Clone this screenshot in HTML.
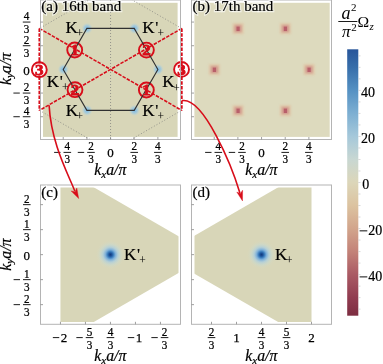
<!DOCTYPE html><html><head><meta charset="utf-8"><style>
html,body{margin:0;padding:0;background:#fff;overflow:hidden}
svg{display:block;will-change:transform}
text{font-family:'Liberation Serif',serif;}
</style></head><body>
<svg width="383" height="364" viewBox="0 0 383 364">
<defs>
<radialGradient id="gb"><stop offset="0" stop-color="#70b6ea" stop-opacity="0.95"/><stop offset="0.5" stop-color="#92c5e6" stop-opacity="0.7"/><stop offset="1" stop-color="#c0d8d8" stop-opacity="0"/></radialGradient>
<radialGradient id="gr"><stop offset="0" stop-color="#c0504a"/><stop offset="0.35" stop-color="#d59a88" stop-opacity="0.8"/><stop offset="1" stop-color="#e0c8b0" stop-opacity="0"/></radialGradient>
<radialGradient id="gbig"><stop offset="0" stop-color="#123a7a"/><stop offset="0.1" stop-color="#1d519a"/><stop offset="0.2" stop-color="#3a7cbc"/><stop offset="0.33" stop-color="#78addb" stop-opacity="0.95"/><stop offset="0.5" stop-color="#a9cde0" stop-opacity="0.75"/><stop offset="0.7" stop-color="#c4dad4" stop-opacity="0.45"/><stop offset="0.85" stop-color="#d0dac8" stop-opacity="0.2"/><stop offset="1" stop-color="#d9d7b9" stop-opacity="0"/></radialGradient>
<linearGradient id="cb" x1="0" y1="0" x2="0" y2="1"><stop offset="-0.0013" stop-color="#28559a"/><stop offset="0.0678" stop-color="#376eaa"/><stop offset="0.1543" stop-color="#5591c3"/><stop offset="0.2407" stop-color="#7dafd2"/><stop offset="0.3271" stop-color="#a5c8da"/><stop offset="0.4136" stop-color="#c8d7d2"/><stop offset="0.5000" stop-color="#dcd6b9"/><stop offset="0.5864" stop-color="#dcc3a0"/><stop offset="0.6729" stop-color="#d2a58c"/><stop offset="0.7593" stop-color="#c38278"/><stop offset="0.8457" stop-color="#aa5a64"/><stop offset="0.9322" stop-color="#913c50"/><stop offset="1.0013" stop-color="#7d2d41"/></linearGradient>
<filter id="blr" x="-50%" y="-50%" width="200%" height="200%"><feGaussianBlur stdDeviation="0.8"/></filter><filter id="blr2" x="-50%" y="-50%" width="200%" height="200%"><feGaussianBlur stdDeviation="1.3"/></filter><filter id="blr3" x="-50%" y="-50%" width="200%" height="200%"><feGaussianBlur stdDeviation="0.6"/></filter>
<clipPath id="clipA"><rect x="40.5" y="-0.5" width="140" height="140"/></clipPath>
<clipPath id="clipC"><rect x="60" y="187.5" width="118.5" height="134.5"/></clipPath>
<clipPath id="clipD"><rect x="194.5" y="187.5" width="118" height="134.5"/></clipPath>
</defs>

<rect x="43" y="2.8" width="134.6" height="134.1" fill="#d8d6b8"/>
<rect x="194.4" y="2.8" width="135.3" height="134.1" fill="#dddabe"/>
<g clip-path="url(#clipA)"><polygon points="181.55,28.41 110.55,-12.58 39.55,28.41 39.55,110.39 110.55,151.38 181.55,110.39" fill="none" stroke="#8c8c84" stroke-width="0.9" stroke-dasharray="1 2"/>
<line x1="110.55" y1="0" x2="110.55" y2="139" stroke="#8c8c84" stroke-width="0.9" stroke-dasharray="1 2"/></g>
<circle cx="158.08" cy="69.40" r="5.8" fill="url(#gb)"/>
<circle cx="134.42" cy="28.41" r="5.8" fill="url(#gb)"/>
<circle cx="87.08" cy="28.41" r="5.8" fill="url(#gb)"/>
<circle cx="63.42" cy="69.40" r="5.8" fill="url(#gb)"/>
<circle cx="87.08" cy="110.39" r="5.8" fill="url(#gb)"/>
<circle cx="134.42" cy="110.39" r="5.8" fill="url(#gb)"/>
<rect x="303.58" y="64.10" width="11" height="11" fill="#e0c2a2" opacity="0.75" filter="url(#blr2)"/>
<rect x="305.58" y="66.10" width="7" height="7" fill="#d0948a" filter="url(#blr)"/>
<rect x="307.48" y="67.60" width="3.2" height="4.4" fill="#b8606a" filter="url(#blr3)"/>
<rect x="279.92" y="23.11" width="11" height="11" fill="#e0c2a2" opacity="0.75" filter="url(#blr2)"/>
<rect x="281.92" y="25.11" width="7" height="7" fill="#d0948a" filter="url(#blr)"/>
<rect x="283.82" y="26.61" width="3.2" height="4.4" fill="#b8606a" filter="url(#blr3)"/>
<rect x="232.58" y="23.11" width="11" height="11" fill="#e0c2a2" opacity="0.75" filter="url(#blr2)"/>
<rect x="234.58" y="25.11" width="7" height="7" fill="#d0948a" filter="url(#blr)"/>
<rect x="236.48" y="26.61" width="3.2" height="4.4" fill="#b8606a" filter="url(#blr3)"/>
<rect x="208.92" y="64.10" width="11" height="11" fill="#e0c2a2" opacity="0.75" filter="url(#blr2)"/>
<rect x="210.92" y="66.10" width="7" height="7" fill="#d0948a" filter="url(#blr)"/>
<rect x="212.82" y="67.60" width="3.2" height="4.4" fill="#b8606a" filter="url(#blr3)"/>
<rect x="232.58" y="105.09" width="11" height="11" fill="#e0c2a2" opacity="0.75" filter="url(#blr2)"/>
<rect x="234.58" y="107.09" width="7" height="7" fill="#d0948a" filter="url(#blr)"/>
<rect x="236.48" y="108.59" width="3.2" height="4.4" fill="#b8606a" filter="url(#blr3)"/>
<rect x="279.92" y="105.09" width="11" height="11" fill="#e0c2a2" opacity="0.75" filter="url(#blr2)"/>
<rect x="281.92" y="107.09" width="7" height="7" fill="#d0948a" filter="url(#blr)"/>
<rect x="283.82" y="108.59" width="3.2" height="4.4" fill="#b8606a" filter="url(#blr3)"/>
<circle cx="74.70" cy="50.00" r="7.45" fill="none" stroke="#d80d1a" stroke-width="1.9"/>
<circle cx="146.35" cy="90.00" r="7.45" fill="none" stroke="#d80d1a" stroke-width="1.9"/>
<circle cx="146.40" cy="50.10" r="7.45" fill="none" stroke="#d80d1a" stroke-width="1.9"/>
<circle cx="75.00" cy="89.70" r="7.45" fill="none" stroke="#d80d1a" stroke-width="1.9"/>
<circle cx="181.55" cy="69.40" r="7.45" fill="#fff" stroke="#d80d1a" stroke-width="1.9"/>
<text transform="translate(181.55,74.60) scale(1.12,1)" text-anchor="middle" font-size="15.2" font-weight="bold" fill="#d80d1a" stroke="#d80d1a" stroke-width="0.8">3</text>
<polygon points="157.88,69.40 134.22,28.41 86.88,28.41 63.22,69.40 86.88,110.39 134.22,110.39" fill="none" stroke="#303030" stroke-width="1.1"/>
<text transform="translate(74.70,55.20) scale(1.12,1)" text-anchor="middle" font-size="15.2" font-weight="bold" fill="#d80d1a" stroke="#d80d1a" stroke-width="0.8">1</text>
<text transform="translate(146.35,95.20) scale(1.12,1)" text-anchor="middle" font-size="15.2" font-weight="bold" fill="#d80d1a" stroke="#d80d1a" stroke-width="0.8">1</text>
<text transform="translate(146.40,55.30) scale(1.12,1)" text-anchor="middle" font-size="15.2" font-weight="bold" fill="#d80d1a" stroke="#d80d1a" stroke-width="0.8">2</text>
<text transform="translate(75.00,94.90) scale(1.12,1)" text-anchor="middle" font-size="15.2" font-weight="bold" fill="#d80d1a" stroke="#d80d1a" stroke-width="0.8">2</text>
<path d="M39.40,28.41 L181.75,110.39 M181.75,28.41 L39.40,110.39" fill="none" stroke="#d80d1a" stroke-width="1.55" stroke-dasharray="3.5 1.3"/>
<path d="M39.40,28.41 L39.40,110.39 M181.75,28.41 L181.75,110.39" fill="none" stroke="#d80d1a" stroke-width="1.9" stroke-dasharray="3.5 1.3"/>
<rect x="40.5" y="0" width="140" height="139.5" fill="none" stroke="#b4b4b4" stroke-width="1"/>
<rect x="191.5" y="0" width="140" height="139.5" fill="none" stroke="#b4b4b4" stroke-width="1"/>
<text x="65.50" y="32.50" font-size="17" stroke="#000" stroke-width="0.2">K<tspan font-size="11.5" dx="-1.4" dy="4.3" stroke-width="0.05">+</tspan></text>
<text x="142.20" y="32.80" font-size="17" stroke="#000" stroke-width="0.2">K<tspan dx="0.8">'</tspan><tspan font-size="11.5" dx="-0.9" dy="4.3" stroke-width="0.05">+</tspan></text>
<text x="46.70" y="87.10" font-size="17" stroke="#000" stroke-width="0.2">K<tspan dx="0.8">'</tspan><tspan font-size="11.5" dx="-0.9" dy="4.3" stroke-width="0.05">+</tspan></text>
<text x="162.30" y="87.30" font-size="17" stroke="#000" stroke-width="0.2">K<tspan font-size="11.5" dx="-1.4" dy="4.3" stroke-width="0.05">+</tspan></text>
<text x="65.70" y="115.70" font-size="17" stroke="#000" stroke-width="0.2">K<tspan font-size="11.5" dx="-1.4" dy="4.3" stroke-width="0.05">+</tspan></text>
<text x="142.20" y="115.70" font-size="17" stroke="#000" stroke-width="0.2">K<tspan dx="0.8">'</tspan><tspan font-size="11.5" dx="-0.9" dy="4.3" stroke-width="0.05">+</tspan></text>
<text x="41.3" y="11.2" font-size="15" fill="none" stroke="#fff" stroke-opacity="0.6" stroke-width="2.5">(a) 16th band</text>
<text x="41.3" y="11.2" font-size="15" stroke="#000" stroke-width="0.2">(a) 16th band</text>
<text x="192.5" y="11.2" font-size="15" fill="none" stroke="#fff" stroke-opacity="0.6" stroke-width="2.5">(b) 17th band</text>
<text x="192.5" y="11.2" font-size="15" stroke="#000" stroke-width="0.2">(b) 17th band</text>
<line x1="63.22" y1="139.5" x2="63.22" y2="137.0" stroke="#888888" stroke-width="0.8"/>
<line x1="86.88" y1="139.5" x2="86.88" y2="137.0" stroke="#888888" stroke-width="0.8"/>
<line x1="110.55" y1="139.5" x2="110.55" y2="137.0" stroke="#888888" stroke-width="0.8"/>
<line x1="134.22" y1="139.5" x2="134.22" y2="137.0" stroke="#888888" stroke-width="0.8"/>
<line x1="157.88" y1="139.5" x2="157.88" y2="137.0" stroke="#888888" stroke-width="0.8"/>
<line x1="214.22" y1="139.5" x2="214.22" y2="137.0" stroke="#888888" stroke-width="0.8"/>
<line x1="237.88" y1="139.5" x2="237.88" y2="137.0" stroke="#888888" stroke-width="0.8"/>
<line x1="261.55" y1="139.5" x2="261.55" y2="137.0" stroke="#888888" stroke-width="0.8"/>
<line x1="285.22" y1="139.5" x2="285.22" y2="137.0" stroke="#888888" stroke-width="0.8"/>
<line x1="308.88" y1="139.5" x2="308.88" y2="137.0" stroke="#888888" stroke-width="0.8"/>
<line x1="40.5" y1="116.73" x2="43.0" y2="116.73" stroke="#888888" stroke-width="0.8"/>
<line x1="40.5" y1="93.07" x2="43.0" y2="93.07" stroke="#888888" stroke-width="0.8"/>
<line x1="40.5" y1="69.40" x2="43.0" y2="69.40" stroke="#888888" stroke-width="0.8"/>
<line x1="40.5" y1="45.73" x2="43.0" y2="45.73" stroke="#888888" stroke-width="0.8"/>
<line x1="40.5" y1="22.07" x2="43.0" y2="22.07" stroke="#888888" stroke-width="0.8"/>
<line x1="191.5" y1="116.73" x2="194.0" y2="116.73" stroke="#888888" stroke-width="0.8"/>
<line x1="191.5" y1="93.07" x2="194.0" y2="93.07" stroke="#888888" stroke-width="0.8"/>
<line x1="191.5" y1="69.40" x2="194.0" y2="69.40" stroke="#888888" stroke-width="0.8"/>
<line x1="191.5" y1="45.73" x2="194.0" y2="45.73" stroke="#888888" stroke-width="0.8"/>
<line x1="191.5" y1="22.07" x2="194.0" y2="22.07" stroke="#888888" stroke-width="0.8"/>
<circle cx="39.30" cy="69.70" r="7.45" fill="#fff" stroke="#d80d1a" stroke-width="1.9"/>
<text transform="translate(39.30,74.90) scale(1.12,1)" text-anchor="middle" font-size="15.2" font-weight="bold" fill="#d80d1a" stroke="#d80d1a" stroke-width="0.8">3</text>
<line x1="39.4" y1="60.5" x2="39.4" y2="63.5" stroke="#d80d1a" stroke-width="1.8"/>
<line x1="39.4" y1="75.5" x2="39.4" y2="78.5" stroke="#d80d1a" stroke-width="1.8"/>
<line x1="54.12" y1="152.40" x2="60.52" y2="152.40" stroke="#000" stroke-width="0.9"/>
<line x1="63.52" y1="152.40" x2="71.12" y2="152.40" stroke="#000" stroke-width="0.9"/>
<text transform="translate(67.32,150.40) scale(0.93,1)" text-anchor="middle" font-size="12" stroke="#000" stroke-width="0.25">4</text>
<text transform="translate(67.32,163.40) scale(0.93,1)" text-anchor="middle" font-size="12" stroke="#000" stroke-width="0.25">3</text>
<line x1="77.78" y1="152.40" x2="84.18" y2="152.40" stroke="#000" stroke-width="0.9"/>
<line x1="87.18" y1="152.40" x2="94.78" y2="152.40" stroke="#000" stroke-width="0.9"/>
<text transform="translate(90.98,150.40) scale(0.93,1)" text-anchor="middle" font-size="12" stroke="#000" stroke-width="0.25">2</text>
<text transform="translate(90.98,163.40) scale(0.93,1)" text-anchor="middle" font-size="12" stroke="#000" stroke-width="0.25">3</text>
<text transform="translate(110.55,156.80) scale(1,1)" text-anchor="middle" font-size="13" stroke="#000" stroke-width="0.25">0</text>
<line x1="130.42" y1="152.40" x2="138.02" y2="152.40" stroke="#000" stroke-width="0.9"/>
<text transform="translate(134.22,150.40) scale(0.93,1)" text-anchor="middle" font-size="12" stroke="#000" stroke-width="0.25">2</text>
<text transform="translate(134.22,163.40) scale(0.93,1)" text-anchor="middle" font-size="12" stroke="#000" stroke-width="0.25">3</text>
<line x1="154.08" y1="152.40" x2="161.68" y2="152.40" stroke="#000" stroke-width="0.9"/>
<text transform="translate(157.88,150.40) scale(0.93,1)" text-anchor="middle" font-size="12" stroke="#000" stroke-width="0.25">4</text>
<text transform="translate(157.88,163.40) scale(0.93,1)" text-anchor="middle" font-size="12" stroke="#000" stroke-width="0.25">3</text>
<line x1="205.12" y1="152.40" x2="211.52" y2="152.40" stroke="#000" stroke-width="0.9"/>
<line x1="214.52" y1="152.40" x2="222.12" y2="152.40" stroke="#000" stroke-width="0.9"/>
<text transform="translate(218.32,150.40) scale(0.93,1)" text-anchor="middle" font-size="12" stroke="#000" stroke-width="0.25">4</text>
<text transform="translate(218.32,163.40) scale(0.93,1)" text-anchor="middle" font-size="12" stroke="#000" stroke-width="0.25">3</text>
<line x1="228.78" y1="152.40" x2="235.18" y2="152.40" stroke="#000" stroke-width="0.9"/>
<line x1="238.18" y1="152.40" x2="245.78" y2="152.40" stroke="#000" stroke-width="0.9"/>
<text transform="translate(241.98,150.40) scale(0.93,1)" text-anchor="middle" font-size="12" stroke="#000" stroke-width="0.25">2</text>
<text transform="translate(241.98,163.40) scale(0.93,1)" text-anchor="middle" font-size="12" stroke="#000" stroke-width="0.25">3</text>
<text transform="translate(261.55,156.80) scale(1,1)" text-anchor="middle" font-size="13" stroke="#000" stroke-width="0.25">0</text>
<line x1="281.42" y1="152.40" x2="289.02" y2="152.40" stroke="#000" stroke-width="0.9"/>
<text transform="translate(285.22,150.40) scale(0.93,1)" text-anchor="middle" font-size="12" stroke="#000" stroke-width="0.25">2</text>
<text transform="translate(285.22,163.40) scale(0.93,1)" text-anchor="middle" font-size="12" stroke="#000" stroke-width="0.25">3</text>
<line x1="305.08" y1="152.40" x2="312.68" y2="152.40" stroke="#000" stroke-width="0.9"/>
<text transform="translate(308.88,150.40) scale(0.93,1)" text-anchor="middle" font-size="12" stroke="#000" stroke-width="0.25">4</text>
<text transform="translate(308.88,163.40) scale(0.93,1)" text-anchor="middle" font-size="12" stroke="#000" stroke-width="0.25">3</text>
<line x1="22.80" y1="22.07" x2="30.40" y2="22.07" stroke="#000" stroke-width="0.9"/>
<text transform="translate(26.60,20.07) scale(0.93,1)" text-anchor="middle" font-size="12" stroke="#000" stroke-width="0.25">4</text>
<text transform="translate(26.60,33.07) scale(0.93,1)" text-anchor="middle" font-size="12" stroke="#000" stroke-width="0.25">3</text>
<line x1="22.80" y1="45.73" x2="30.40" y2="45.73" stroke="#000" stroke-width="0.9"/>
<text transform="translate(26.60,43.73) scale(0.93,1)" text-anchor="middle" font-size="12" stroke="#000" stroke-width="0.25">2</text>
<text transform="translate(26.60,56.73) scale(0.93,1)" text-anchor="middle" font-size="12" stroke="#000" stroke-width="0.25">3</text>
<text transform="translate(26.60,74.70) scale(1,1)" text-anchor="middle" font-size="13" stroke="#000" stroke-width="0.25">0</text>
<line x1="13.40" y1="93.07" x2="19.80" y2="93.07" stroke="#000" stroke-width="0.9"/>
<line x1="22.80" y1="93.07" x2="30.40" y2="93.07" stroke="#000" stroke-width="0.9"/>
<text transform="translate(26.60,91.07) scale(0.93,1)" text-anchor="middle" font-size="12" stroke="#000" stroke-width="0.25">2</text>
<text transform="translate(26.60,104.07) scale(0.93,1)" text-anchor="middle" font-size="12" stroke="#000" stroke-width="0.25">3</text>
<line x1="13.40" y1="116.73" x2="19.80" y2="116.73" stroke="#000" stroke-width="0.9"/>
<line x1="22.80" y1="116.73" x2="30.40" y2="116.73" stroke="#000" stroke-width="0.9"/>
<text transform="translate(26.60,114.73) scale(0.93,1)" text-anchor="middle" font-size="12" stroke="#000" stroke-width="0.25">4</text>
<text transform="translate(26.60,127.73) scale(0.93,1)" text-anchor="middle" font-size="12" stroke="#000" stroke-width="0.25">3</text>
<text x="110.30" y="175.10" text-anchor="middle" font-size="15.8" font-style="italic" stroke="#000" stroke-width="0.2">k<tspan font-size="11" dy="2.6">x</tspan><tspan dy="-2.6">a/π</tspan></text>
<text x="261.30" y="175.10" text-anchor="middle" font-size="15.8" font-style="italic" stroke="#000" stroke-width="0.2">k<tspan font-size="11" dy="2.6">x</tspan><tspan dy="-2.6">a/π</tspan></text>
<text transform="translate(10.70,69.00) rotate(-90)" x="0" y="0" text-anchor="middle" font-size="15.8" font-style="italic" stroke="#000" stroke-width="0.2">k<tspan font-size="11" dy="2.6">y</tspan><tspan dy="-2.6">a/π</tspan></text>
<rect x="347.2" y="49.3" width="11.1" height="266.4" fill="url(#cb)"/>
<line x1="358.3" y1="309.14" x2="360.5" y2="309.14" stroke="#c8c8c8" stroke-width="0.7"/>
<line x1="358.3" y1="297.62" x2="360.5" y2="297.62" stroke="#c8c8c8" stroke-width="0.7"/>
<line x1="358.3" y1="286.11" x2="360.5" y2="286.11" stroke="#c8c8c8" stroke-width="0.7"/>
<line x1="358.3" y1="274.60" x2="360.5" y2="274.60" stroke="#c8c8c8" stroke-width="0.7"/>
<line x1="358.3" y1="263.09" x2="360.5" y2="263.09" stroke="#c8c8c8" stroke-width="0.7"/>
<line x1="358.3" y1="251.57" x2="360.5" y2="251.57" stroke="#c8c8c8" stroke-width="0.7"/>
<line x1="358.3" y1="240.06" x2="360.5" y2="240.06" stroke="#c8c8c8" stroke-width="0.7"/>
<line x1="358.3" y1="228.55" x2="360.5" y2="228.55" stroke="#c8c8c8" stroke-width="0.7"/>
<line x1="358.3" y1="217.04" x2="360.5" y2="217.04" stroke="#c8c8c8" stroke-width="0.7"/>
<line x1="358.3" y1="205.53" x2="360.5" y2="205.53" stroke="#c8c8c8" stroke-width="0.7"/>
<line x1="358.3" y1="194.01" x2="360.5" y2="194.01" stroke="#c8c8c8" stroke-width="0.7"/>
<line x1="358.3" y1="182.50" x2="360.5" y2="182.50" stroke="#c8c8c8" stroke-width="0.7"/>
<line x1="358.3" y1="170.99" x2="360.5" y2="170.99" stroke="#c8c8c8" stroke-width="0.7"/>
<line x1="358.3" y1="159.47" x2="360.5" y2="159.47" stroke="#c8c8c8" stroke-width="0.7"/>
<line x1="358.3" y1="147.96" x2="360.5" y2="147.96" stroke="#c8c8c8" stroke-width="0.7"/>
<line x1="358.3" y1="136.45" x2="360.5" y2="136.45" stroke="#c8c8c8" stroke-width="0.7"/>
<line x1="358.3" y1="124.94" x2="360.5" y2="124.94" stroke="#c8c8c8" stroke-width="0.7"/>
<line x1="358.3" y1="113.43" x2="360.5" y2="113.43" stroke="#c8c8c8" stroke-width="0.7"/>
<line x1="358.3" y1="101.91" x2="360.5" y2="101.91" stroke="#c8c8c8" stroke-width="0.7"/>
<line x1="358.3" y1="90.40" x2="360.5" y2="90.40" stroke="#c8c8c8" stroke-width="0.7"/>
<line x1="358.3" y1="78.89" x2="360.5" y2="78.89" stroke="#c8c8c8" stroke-width="0.7"/>
<line x1="358.3" y1="67.38" x2="360.5" y2="67.38" stroke="#c8c8c8" stroke-width="0.7"/>
<line x1="358.3" y1="55.86" x2="360.5" y2="55.86" stroke="#c8c8c8" stroke-width="0.7"/>
<text x="361" y="97.10" font-size="14" stroke="#000" stroke-width="0.2">40</text>
<text x="361" y="143.15" font-size="14" stroke="#000" stroke-width="0.2">20</text>
<text x="362.3" y="189.20" font-size="14" stroke="#000" stroke-width="0.2">0</text>
<text x="368.3" y="235.25" font-size="14" stroke="#000" stroke-width="0.2">20</text>
<line x1="359.6" y1="230.85" x2="367.3" y2="230.85" stroke="#000" stroke-width="0.95"/>
<text x="368.3" y="281.30" font-size="14" stroke="#000" stroke-width="0.2">40</text>
<line x1="359.6" y1="276.90" x2="367.3" y2="276.90" stroke="#000" stroke-width="0.95"/>
<text x="341.4" y="19.3" font-size="18" font-style="italic">a</text>
<text x="351.0" y="11.0" font-size="11">2</text>
<line x1="338.3" y1="21.5" x2="357.4" y2="21.5" stroke="#000" stroke-width="0.9"/>
<text x="342.0" y="36.6" font-size="17" font-style="italic">π</text>
<text x="351.2" y="30.7" font-size="11">2</text>
<text transform="translate(357.6,26.7) scale(1.12,1)" font-size="14">Ω</text>
<text x="369.4" y="30.3" font-size="11" font-style="italic">z</text>
<g clip-path="url(#clipC)"><polygon points="210.45,254.65 60.45,168.05 60.45,341.25" fill="#d8d6b8"/></g>
<g clip-path="url(#clipD)"><polygon points="161.50,254.65 311.50,168.05 311.50,341.25" fill="#d8d6b8"/></g>
<circle cx="110.45" cy="254.65" r="15" fill="url(#gbig)"/>
<circle cx="261.50" cy="254.65" r="15" fill="url(#gbig)"/>
<rect x="40.5" y="185" width="140" height="139.3" fill="none" stroke="#b4b4b4" stroke-width="1"/>
<rect x="191.5" y="185" width="140" height="139.3" fill="none" stroke="#b4b4b4" stroke-width="1"/>
<line x1="60.45" y1="324.3" x2="60.45" y2="321.8" stroke="#888888" stroke-width="0.8"/>
<line x1="85.45" y1="324.3" x2="85.45" y2="321.8" stroke="#888888" stroke-width="0.8"/>
<line x1="110.45" y1="324.3" x2="110.45" y2="321.8" stroke="#888888" stroke-width="0.8"/>
<line x1="135.45" y1="324.3" x2="135.45" y2="321.8" stroke="#888888" stroke-width="0.8"/>
<line x1="160.45" y1="324.3" x2="160.45" y2="321.8" stroke="#888888" stroke-width="0.8"/>
<line x1="211.50" y1="324.3" x2="211.50" y2="321.8" stroke="#888888" stroke-width="0.8"/>
<line x1="236.50" y1="324.3" x2="236.50" y2="321.8" stroke="#888888" stroke-width="0.8"/>
<line x1="261.50" y1="324.3" x2="261.50" y2="321.8" stroke="#888888" stroke-width="0.8"/>
<line x1="286.50" y1="324.3" x2="286.50" y2="321.8" stroke="#888888" stroke-width="0.8"/>
<line x1="311.50" y1="324.3" x2="311.50" y2="321.8" stroke="#888888" stroke-width="0.8"/>
<line x1="40.5" y1="304.65" x2="43.0" y2="304.65" stroke="#888888" stroke-width="0.8"/>
<line x1="40.5" y1="279.65" x2="43.0" y2="279.65" stroke="#888888" stroke-width="0.8"/>
<line x1="40.5" y1="254.65" x2="43.0" y2="254.65" stroke="#888888" stroke-width="0.8"/>
<line x1="40.5" y1="229.65" x2="43.0" y2="229.65" stroke="#888888" stroke-width="0.8"/>
<line x1="40.5" y1="204.65" x2="43.0" y2="204.65" stroke="#888888" stroke-width="0.8"/>
<line x1="191.5" y1="304.65" x2="194.0" y2="304.65" stroke="#888888" stroke-width="0.8"/>
<line x1="191.5" y1="279.65" x2="194.0" y2="279.65" stroke="#888888" stroke-width="0.8"/>
<line x1="191.5" y1="254.65" x2="194.0" y2="254.65" stroke="#888888" stroke-width="0.8"/>
<line x1="191.5" y1="229.65" x2="194.0" y2="229.65" stroke="#888888" stroke-width="0.8"/>
<line x1="191.5" y1="204.65" x2="194.0" y2="204.65" stroke="#888888" stroke-width="0.8"/>
<text x="124.00" y="260.00" font-size="17" stroke="#000" stroke-width="0.2">K<tspan dx="0.8">'</tspan><tspan font-size="11.5" dx="-0.9" dy="4.3" stroke-width="0.05">+</tspan></text>
<text x="275.00" y="260.00" font-size="17" stroke="#000" stroke-width="0.2">K<tspan font-size="11.5" dx="-1.4" dy="4.3" stroke-width="0.05">+</tspan></text>
<text x="41.3" y="196.8" font-size="15" fill="none" stroke="#fff" stroke-opacity="0.6" stroke-width="2.5">(c)</text>
<text x="41.3" y="196.8" font-size="15" stroke="#000" stroke-width="0.2">(c)</text>
<text x="192.5" y="196.8" font-size="15" fill="none" stroke="#fff" stroke-opacity="0.6" stroke-width="2.5">(d)</text>
<text x="192.5" y="196.8" font-size="15" stroke="#000" stroke-width="0.2">(d)</text>
<line x1="52.85" y1="337.60" x2="59.25" y2="337.60" stroke="#000" stroke-width="0.9"/>
<text transform="translate(60.85,342.00) scale(1,1)" text-anchor="start" font-size="13" stroke="#000" stroke-width="0.25">2</text>
<line x1="76.35" y1="337.60" x2="82.75" y2="337.60" stroke="#000" stroke-width="0.9"/>
<line x1="85.75" y1="337.60" x2="93.35" y2="337.60" stroke="#000" stroke-width="0.9"/>
<text transform="translate(89.55,335.60) scale(0.93,1)" text-anchor="middle" font-size="12" stroke="#000" stroke-width="0.25">5</text>
<text transform="translate(89.55,348.60) scale(0.93,1)" text-anchor="middle" font-size="12" stroke="#000" stroke-width="0.25">3</text>
<line x1="106.65" y1="337.60" x2="114.25" y2="337.60" stroke="#000" stroke-width="0.9"/>
<text transform="translate(110.45,335.60) scale(0.93,1)" text-anchor="middle" font-size="12" stroke="#000" stroke-width="0.25">4</text>
<text transform="translate(110.45,348.60) scale(0.93,1)" text-anchor="middle" font-size="12" stroke="#000" stroke-width="0.25">3</text>
<line x1="127.85" y1="337.60" x2="134.25" y2="337.60" stroke="#000" stroke-width="0.9"/>
<text transform="translate(135.85,342.00) scale(1,1)" text-anchor="start" font-size="13" stroke="#000" stroke-width="0.25">1</text>
<line x1="151.35" y1="337.60" x2="157.75" y2="337.60" stroke="#000" stroke-width="0.9"/>
<line x1="160.75" y1="337.60" x2="168.35" y2="337.60" stroke="#000" stroke-width="0.9"/>
<text transform="translate(164.55,335.60) scale(0.93,1)" text-anchor="middle" font-size="12" stroke="#000" stroke-width="0.25">2</text>
<text transform="translate(164.55,348.60) scale(0.93,1)" text-anchor="middle" font-size="12" stroke="#000" stroke-width="0.25">3</text>
<line x1="207.70" y1="337.60" x2="215.30" y2="337.60" stroke="#000" stroke-width="0.9"/>
<text transform="translate(211.50,335.60) scale(0.93,1)" text-anchor="middle" font-size="12" stroke="#000" stroke-width="0.25">2</text>
<text transform="translate(211.50,348.60) scale(0.93,1)" text-anchor="middle" font-size="12" stroke="#000" stroke-width="0.25">3</text>
<text transform="translate(236.50,342.00) scale(1,1)" text-anchor="middle" font-size="13" stroke="#000" stroke-width="0.25">1</text>
<line x1="257.70" y1="337.60" x2="265.30" y2="337.60" stroke="#000" stroke-width="0.9"/>
<text transform="translate(261.50,335.60) scale(0.93,1)" text-anchor="middle" font-size="12" stroke="#000" stroke-width="0.25">4</text>
<text transform="translate(261.50,348.60) scale(0.93,1)" text-anchor="middle" font-size="12" stroke="#000" stroke-width="0.25">3</text>
<line x1="282.70" y1="337.60" x2="290.30" y2="337.60" stroke="#000" stroke-width="0.9"/>
<text transform="translate(286.50,335.60) scale(0.93,1)" text-anchor="middle" font-size="12" stroke="#000" stroke-width="0.25">5</text>
<text transform="translate(286.50,348.60) scale(0.93,1)" text-anchor="middle" font-size="12" stroke="#000" stroke-width="0.25">3</text>
<text transform="translate(311.50,342.00) scale(1,1)" text-anchor="middle" font-size="13" stroke="#000" stroke-width="0.25">2</text>
<line x1="23.00" y1="204.65" x2="30.60" y2="204.65" stroke="#000" stroke-width="0.9"/>
<text transform="translate(26.80,202.65) scale(0.93,1)" text-anchor="middle" font-size="12" stroke="#000" stroke-width="0.25">2</text>
<text transform="translate(26.80,215.65) scale(0.93,1)" text-anchor="middle" font-size="12" stroke="#000" stroke-width="0.25">3</text>
<line x1="23.00" y1="229.65" x2="30.60" y2="229.65" stroke="#000" stroke-width="0.9"/>
<text transform="translate(26.80,227.65) scale(0.93,1)" text-anchor="middle" font-size="12" stroke="#000" stroke-width="0.25">1</text>
<text transform="translate(26.80,240.65) scale(0.93,1)" text-anchor="middle" font-size="12" stroke="#000" stroke-width="0.25">3</text>
<text transform="translate(26.80,259.85) scale(1,1)" text-anchor="middle" font-size="13" stroke="#000" stroke-width="0.25">0</text>
<line x1="13.60" y1="279.65" x2="20.00" y2="279.65" stroke="#000" stroke-width="0.9"/>
<line x1="23.00" y1="279.65" x2="30.60" y2="279.65" stroke="#000" stroke-width="0.9"/>
<text transform="translate(26.80,277.65) scale(0.93,1)" text-anchor="middle" font-size="12" stroke="#000" stroke-width="0.25">1</text>
<text transform="translate(26.80,290.65) scale(0.93,1)" text-anchor="middle" font-size="12" stroke="#000" stroke-width="0.25">3</text>
<line x1="13.60" y1="304.65" x2="20.00" y2="304.65" stroke="#000" stroke-width="0.9"/>
<line x1="23.00" y1="304.65" x2="30.60" y2="304.65" stroke="#000" stroke-width="0.9"/>
<text transform="translate(26.80,302.65) scale(0.93,1)" text-anchor="middle" font-size="12" stroke="#000" stroke-width="0.25">2</text>
<text transform="translate(26.80,315.65) scale(0.93,1)" text-anchor="middle" font-size="12" stroke="#000" stroke-width="0.25">3</text>
<text x="110.30" y="360.90" text-anchor="middle" font-size="15.8" font-style="italic" stroke="#000" stroke-width="0.2">k<tspan font-size="11" dy="2.6">x</tspan><tspan dy="-2.6">a/π</tspan></text>
<text x="261.30" y="360.90" text-anchor="middle" font-size="15.8" font-style="italic" stroke="#000" stroke-width="0.2">k<tspan font-size="11" dy="2.6">x</tspan><tspan dy="-2.6">a/π</tspan></text>
<text transform="translate(10.70,254.60) rotate(-90)" x="0" y="0" text-anchor="middle" font-size="15.8" font-style="italic" stroke="#000" stroke-width="0.2">k<tspan font-size="11" dy="2.6">y</tspan><tspan dy="-2.6">a/π</tspan></text>
<path d="M49.1,105.2 C51.16,143.53 68.17,173.94 74.8,191.0" fill="none" stroke="#d80d1a" stroke-width="1.6"/>
<path d="M78.7,198.6 L71.1,190.9 L75.1,191.8 L76.8,188.0 Z" fill="#d80d1a" stroke="#d80d1a" stroke-width="0.4" stroke-linejoin="round"/>
<path d="M182,100.6 C203.64,96.74 232.14,166.79 239.9,193.0" fill="none" stroke="#d80d1a" stroke-width="1.6"/>
<path d="M242.5,200.9 L236.8,192.1 L240.4,193.6 L242.6,190.2 Z" fill="#d80d1a" stroke="#d80d1a" stroke-width="0.4" stroke-linejoin="round"/>
</svg></body></html>
